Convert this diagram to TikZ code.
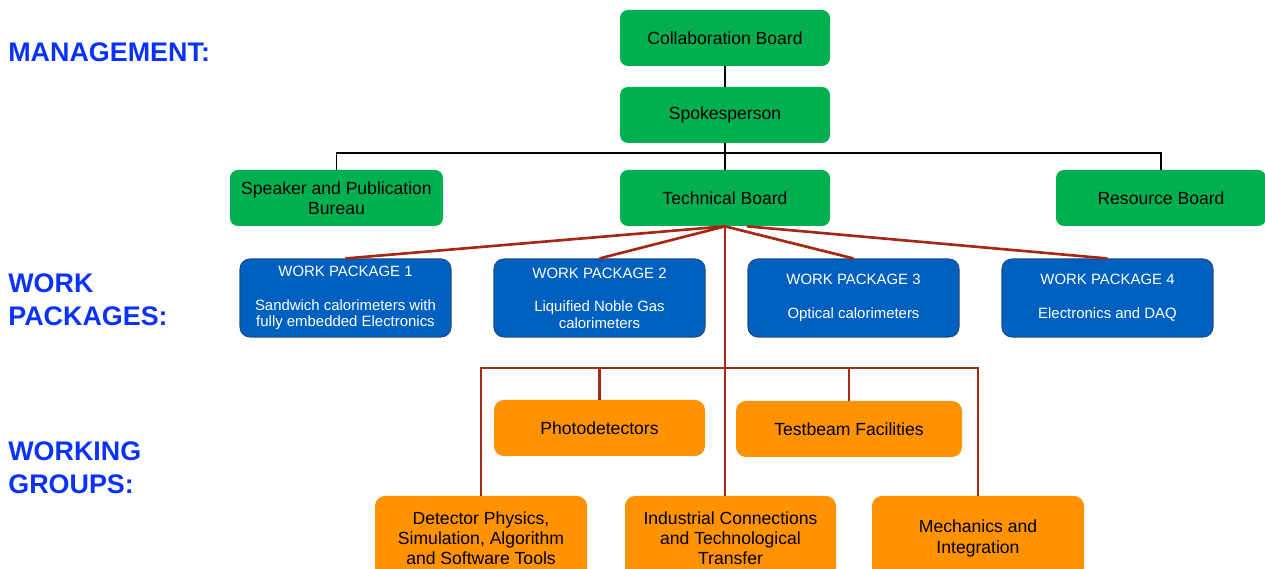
\documentclass[tikz,border=0pt]{standalone}
\usepackage{fontspec}
\setmainfont{Liberation Sans}

\definecolor{boardgreen}{RGB}{0,176,80}
\definecolor{wpblue}{RGB}{0,96,192}
\definecolor{wpedge}{RGB}{30,75,135}
\definecolor{wgorange}{RGB}{255,146,0}
\definecolor{linkred}{RGB}{165,40,20}
\definecolor{headblue}{RGB}{10,50,250}

\begin{document}
\begin{tikzpicture}[
  boardbox/.style={fill=boardgreen, rounded corners=0.16cm, minimum width=4.2cm,
    minimum height=1.12cm, inner sep=1pt, align=center,
    font=\fontsize{10}{11.5}\selectfont},
  wpbox/.style={fill=wpblue, draw=wpedge, line width=0.6pt, rounded corners=0.2cm,
    minimum width=4.22cm, minimum height=1.56cm, inner sep=1pt, align=center,
    text=white, font=\fontsize{8.5}{9.2}\selectfont},
  wgbox/.style={fill=wgorange, rounded corners=0.2cm, minimum width=4.22cm,
    minimum height=1.12cm, inner sep=1pt, align=center,
    font=\fontsize{10}{11.5}\selectfont},
  heading/.style={anchor=west, align=left, inner sep=0pt, text=headblue,
    font=\fontsize{15.3}{18.5}\selectfont\bfseries},
  blacklink/.style={line width=1.1pt},
  redlink/.style={draw=linkred, line width=1.5pt}
]
\useasboundingbox (0,0) rectangle (25.3,11.38);

% headings
\node [heading] (hmgmt) at (0.16,10.34) {MANAGEMENT:};
\node [heading] (hwp) at (0.16,5.39) {WORK\\PACKAGES:};
\node [heading] (hwg) at (0.16,2.02) {WORKING\\GROUPS:};

% management
\node [boardbox] (collab) at (14.5,10.62) {Collaboration Board};
\node [boardbox] (spokes) at (14.5,9.08) {Spokesperson};
\node [boardbox, minimum width=4.26cm] (speaker) at (6.73,7.42) {Speaker and Publication\\Bureau};
\node [boardbox] (tech) at (14.5,7.42) {Technical Board};
\node [boardbox] (resource) at (23.22,7.42) {Resource Board};

% work packages
\node [wpbox] (wp1) at (6.91,5.42) {WORK PACKAGE 1\\[10pt]Sandwich calorimeters with\\fully embedded Electronics};
\node [wpbox] (wp2) at (11.99,5.42) {WORK PACKAGE 2\\[10pt]Liquified Noble Gas\\calorimeters};
\node [wpbox] (wp3) at (17.07,5.42) {WORK PACKAGE 3\\[10pt]Optical calorimeters};
\node [wpbox] (wp4) at (22.15,5.42) {WORK PACKAGE 4\\[10pt]Electronics and DAQ};

% working groups
\node [wgbox] (photo) at (11.99,2.82) {Photodetectors};
\node [wgbox, minimum width=4.52cm] (testbeam) at (16.98,2.8) {Testbeam Facilities};
\node [wgbox, minimum width=4.24cm, minimum height=1.7cm] (detphys) at (9.62,0.61) {Detector Physics,\\Simulation, Algorithm\\and Software Tools};
\node [wgbox, minimum height=1.7cm] (indus) at (14.61,0.61) {Industrial Connections\\and Technological\\Transfer};
\node [wgbox, minimum width=4.24cm, minimum height=1.7cm] (mech) at (19.56,0.61) {Mechanics and\\Integration};

\coordinate (bus) at (0,4.02);

% black links
\draw [blacklink] (collab) -- (spokes);
\draw [blacklink] (spokes) -- (tech);
\draw [blacklink] (speaker.north) -- ++(0,0.34) -| (resource.north);

% red links
\draw [redlink] (tech.south) -- (wp1.north);
\draw [redlink] (tech.south) -- (wp2.north);
\draw [redlink] (tech.south) -- (wp3.north);
\draw [redlink] ([xshift=0.44cm]tech.south) -- (wp4.north);
\draw [redlink] (tech.south) -- (tech.south |- indus.north);
\draw [redlink] (detphys.north) |- (bus -| mech.north) -- (mech.north);
\draw [redlink] (photo.north) -- (photo.north |- bus);
\draw [redlink] (testbeam.north) -- (testbeam.north |- bus);
\end{tikzpicture}
\end{document}
